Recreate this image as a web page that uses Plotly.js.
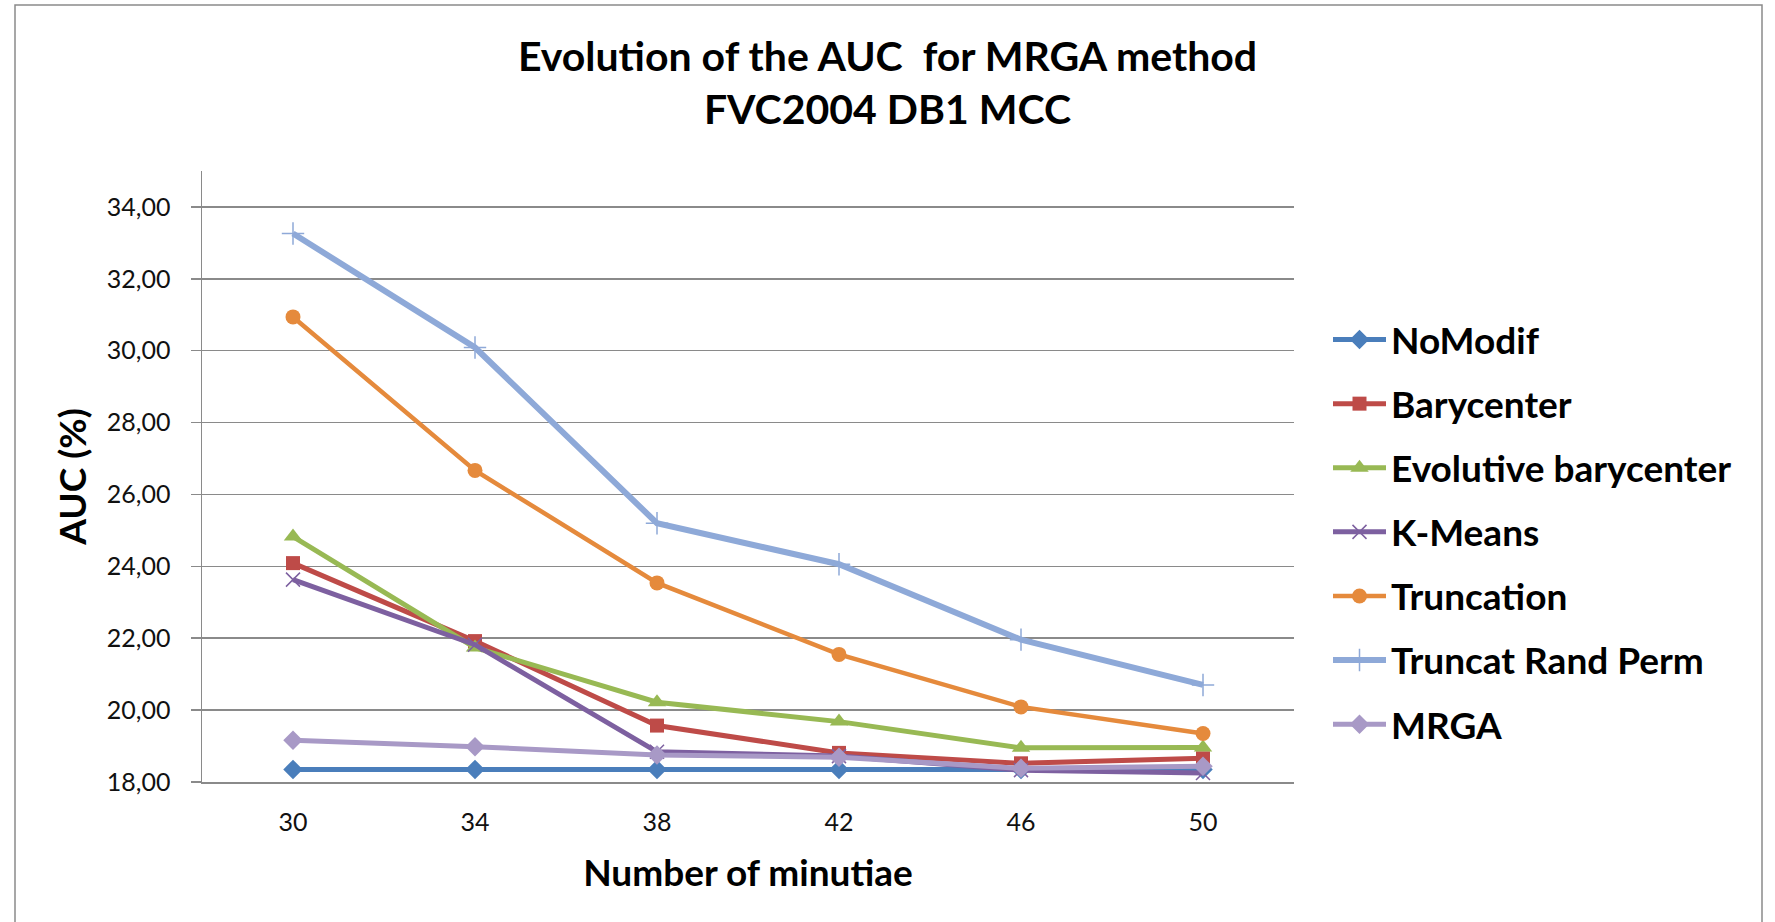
<!DOCTYPE html>
<html>
<head>
<meta charset="utf-8">
<script src="https://cdn.plot.ly/plotly-3.0.1.min.js"></script>
<style>
html,body{margin:0;padding:0;background:#fff;overflow:hidden;}
#chart{width:1775px;height:922px;}
</style>
</head>
<body>
<div id="chart"></div>
<script>
// ---- data ----
const categories = ["30", "34", "38", "42", "46", "50"];
const noModif = [18.35, 18.35, 18.35, 18.35, 18.35, 18.35];
const barycenter = [24.09, 21.92, 19.57, 18.81, 18.52, 18.66];
const evolutiveBarycenter = [24.83, 21.74, 20.22, 19.68, 18.95, 18.96];
const kMeans = [23.63, 21.82, 18.84, 18.72, 18.33, 18.25];
const truncation = [30.94, 26.67, 23.54, 21.55, 20.09, 19.35];
const truncatRandPerm = [33.26, 30.09, 25.2, 24.06, 21.96, 20.7];
const mrga = [19.16, 18.98, 18.75, 18.69, 18.38, 18.44];
const seriesNames = ["NoModif", "Barycenter", "Evolutive barycenter", "K-Means", "Truncation", "Truncat Rand Perm", "MRGA"];
const yTickVals = [18, 20, 22, 24, 26, 28, 30, 32, 34];

const seriesValues = [noModif, barycenter, evolutiveBarycenter, kMeans, truncation, truncatRandPerm, mrga];
const styles = [
  {color: "#4A7EBB", symbol: "diamond", size: 15, width: 5},
  {color: "#BE4B48", symbol: "square", size: 14, width: 5},
  {color: "#98B954", symbol: "triangle-up", size: 16, width: 5},
  {color: "#7D60A0", symbol: "x-thin", size: 14, width: 5},
  {color: "#E58A3C", symbol: "circle", size: 15, width: 4.5},
  {color: "#8EA9D8", symbol: "cross-thin", size: 16, width: 6},
  {color: "#A899C6", symbol: "diamond", size: 15, width: 5}
];

const FONT = "Lato, 'Open Sans', 'DejaVu Sans', sans-serif";

const traces = seriesValues.map((vals, i) => ({
  type: "scatter",
  mode: "lines+markers",
  name: seriesNames[i],
  x: categories,
  y: vals,
  legendgroup: "g" + i,
  line: {color: styles[i].color, width: styles[i].width},
  marker: {
    color: styles[i].color,
    symbol: styles[i].symbol,
    size: styles[i].size,
    line: {color: styles[i].color, width: (styles[i].symbol.indexOf("thin") >= 0) ? 1.5 : 0}
  }
}));

// plot area: x 202..1294, y 171..782
const L = 202, R = 1294, T = 171, B = 782, W = 1775, H = 922;
const pw = R - L, ph = B - T;
const px = v => (v - L) / pw;
const py = v => (B - v) / ph;

const layout = {
  width: W,
  height: H,
  margin: {l: L, r: W - R, t: T, b: H - B, pad: 0},
  paper_bgcolor: "#ffffff",
  plot_bgcolor: "#ffffff",
  separators: ", ",
  showlegend: true,
  title: {
    text: "Evolution of the AUC&nbsp; for MRGA method<br>FVC2004 DB1 MCC",
    x: 0.5,
    xref: "container",
    xanchor: "center",
    y: 1 - 71 / H,
    yref: "container",
    yanchor: "middle",
    font: {family: FONT, size: 41, color: "#000000", weight: "bold"}
  },
  xaxis: {
    type: "category",
    range: [-0.5, 5.5],
    showgrid: false,
    zeroline: false,
    showline: true,
    linecolor: "#8a8a8a",
    linewidth: 1.5,
    ticks: "",
    tickfont: {family: FONT, size: 25, color: "#111111"},
    ticklabelstandoff: 17,
    title: {
      text: "Number of minutiae",
      font: {family: FONT, size: 37, color: "#000000", weight: "bold"},
      standoff: 25
    },
    fixedrange: true
  },
  yaxis: {
    range: [18, 35],
    tickvals: yTickVals,
    tickformat: ".2f",
    showgrid: true,
    gridcolor: "#8a8a8a",
    gridwidth: 1.5,
    zeroline: false,
    showline: true,
    linecolor: "#8a8a8a",
    linewidth: 1.5,
    ticks: "outside",
    ticklen: 10,
    tickcolor: "#8a8a8a",
    tickwidth: 1.5,
    tickfont: {family: FONT, size: 25, color: "#111111"},
    ticklabelstandoff: 15,
    title: {
      text: "AUC (%)",
      font: {family: FONT, size: 37, color: "#000000", weight: "bold"},
      standoff: 9
    },
    fixedrange: true
  },
  legend: {
    x: px(1328),
    xanchor: "left",
    y: py(309),
    yanchor: "top",
    font: {family: FONT, size: 37, color: "#000000", weight: "bold"},
    tracegroupgap: 13,
    itemwidth: 53,
    bgcolor: "rgba(0,0,0,0)",
    borderwidth: 0
  },
  shapes: [
    {
      type: "rect",
      xref: "paper", yref: "paper",
      x0: px(15), x1: px(1762),
      y0: py(940), y1: py(5),
      line: {color: "#8a8a8a", width: 1.5},
      fillcolor: "rgba(0,0,0,0)",
      layer: "below"
    }
  ]
};

Plotly.newPlot("chart", traces, layout, {staticPlot: true, displayModeBar: false});
</script>
</body>
</html>
